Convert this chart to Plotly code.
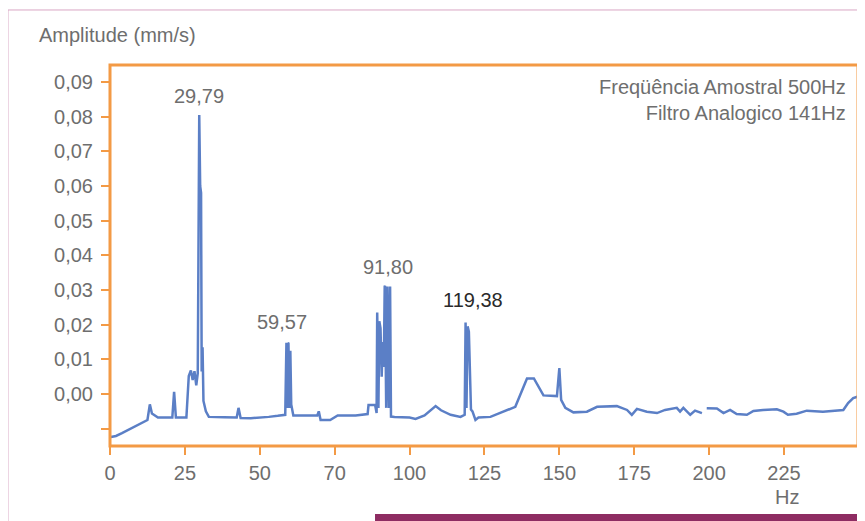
import plotly.graph_objects as go

# Espectro de vibração
freq_hz = [
    0.3, 2, 4, 7, 10, 12.5, 13.3, 14, 15, 16, 20.8, 21.4, 22, 25.5, 26.3, 27.0, 27.6,
    28.2, 28.8, 29.3, 29.79, 30.1, 30.4, 30.6, 30.9, 31.2, 32.0, 33.0, 38, 42.3, 42.9,
    43.6, 47, 50, 53, 56, 58.5, 58.9, 59.2, 59.4, 59.57, 59.9, 60.2, 60.5, 61.2, 65,
    69.2, 69.7, 70.3, 73.5, 76, 82, 86.0, 86.3, 88.5, 89.0, 89.2, 89.6, 89.9, 90.3,
    90.7, 91.0, 91.4, 91.7, 91.80, 92.2, 92.6, 93.1, 93.5, 93.8, 95, 100, 102, 105,
    108.7, 110.5, 113.7, 117, 118.4, 118.7, 119.0, 119.38, 119.8, 120.5, 121, 122, 123,
    127, 130.3, 135.3, 139.2, 141.5, 144.7, 147, 149.2, 150.0, 150.6, 152, 154.7, 159.2,
    162.6, 169.2, 172.6, 174.2, 175.9, 179.2, 182.6, 185.3, 189.2, 190.3, 191.4, 193.7,
    195.3, 197.6, 198.4, 199.2, 202.6, 204.8, 207, 209.2, 212.6, 214.8, 218, 222.6,
    224.8, 226.3, 229.2, 232.6, 235.9, 238, 244.8, 246.4, 248.1, 249.5,
]
amp_mm_s = [
    -0.0124, -0.0121, -0.0113, -0.0099, -0.0087, -0.0075, -0.0030, -0.0056, -0.0062,
    -0.0068, -0.0068, 0.0006, -0.0068, -0.0068, 0.0052, 0.0068, 0.0040, 0.0066, 0.0025,
    0.0060, 0.0805, 0.0600, 0.0580, 0.0065, 0.0135, -0.0020, -0.0050, -0.0066, -0.0067,
    -0.0068, -0.0040, -0.0069, -0.0070, -0.0069, -0.0066, -0.0063, -0.0060, 0.0148,
    -0.0040, 0.0147, 0.0146, -0.0040, 0.0125, -0.0030, -0.0062, -0.0062, -0.0062,
    -0.0050, -0.0075, -0.0075, -0.0062, -0.0062, -0.0058, -0.0032, -0.0032, -0.0055,
    0.0235, -0.0040, 0.0210, 0.0190, 0.0050, 0.0150, 0.0078, 0.0310, 0.0312, -0.0040,
    0.0310, -0.0040, 0.0310, -0.0065, -0.0066, -0.0068, -0.0072, -0.0062, -0.0035,
    -0.0047, -0.0060, -0.0066, -0.0060, 0.0206, -0.0040, 0.0195, 0.0180, -0.0045,
    -0.0050, -0.0075, -0.0068, -0.0066, -0.0055, -0.0037, 0.0045, 0.0045, -0.0004,
    -0.0004, -0.0006, 0.0075, -0.0017, -0.0040, -0.0053, -0.0051, -0.0037, -0.0035,
    -0.0046, -0.0060, -0.0043, -0.0051, -0.0055, -0.0046, -0.0040, -0.0051, -0.0040,
    -0.0060, -0.0048, -0.0055, None, -0.0041, -0.0042, -0.0055, -0.0046, -0.0058,
    -0.0060, -0.0049, -0.0046, -0.0044, -0.0051, -0.0060, -0.0057, -0.0048, -0.0051,
    -0.0051, -0.0046, -0.0026, -0.0012, -0.0008,
]

# Picos identificados
peak_freqs = [29.79, 59.57, 91.80, 119.38]
peak_amps = [0.0805, 0.0148, 0.0312, 0.0206]
peak_labels = ["29,79", "59,57", "91,80", "119,38"]

x_tickvals = [0, 25, 50, 75, 100, 125, 150, 175, 200, 225]
x_ticktext = ["0", "25", "50", "70", "100", "125", "150", "175", "200", "225"]
y_tickvals = [0.09, 0.08, 0.07, 0.06, 0.05, 0.04, 0.03, 0.02, 0.01, 0.0, -0.01]
y_ticktext = ["0,09", "0,08", "0,07", "0,06", "0,05", "0,04", "0,03", "0,02", "0,01", "0,00", ""]

FONT = "Liberation Sans, Arial, sans-serif"
ORANGE = "#f39a45"
GRAY = "#6e6e6e"

fig = go.Figure()
fig.add_trace(go.Scatter(x=freq_hz, y=amp_mm_s, mode="lines",
                         line=dict(color="#5b7fc6", width=2.5), connectgaps=False,
                         showlegend=False, hoverinfo="x+y"))

# Rótulos dos picos
shifts = [(0, 6), (-6, 8), (3, 6), (5, 10)]
for f, a, t, (dx, dy) in zip(peak_freqs, peak_amps, peak_labels, shifts):
    fig.add_annotation(x=f, y=a, text=t, showarrow=False, yanchor="bottom",
                       xshift=dx, yshift=dy,
                       font=dict(size=20, color="#2a2a2a" if t == "119,38" else GRAY))

fig.add_annotation(xref="paper", yref="paper", x=0.9866, y=0.908, xanchor="right",
                   yanchor="middle", align="right", showarrow=False,
                   text="Freqüência Amostral 500Hz<br>Filtro Analogico 141Hz",
                   font=dict(size=20, color=GRAY))
fig.add_annotation(xref="paper", yref="paper", x=-0.0976, y=1.0787, xanchor="left",
                   yanchor="middle", showarrow=False, text="Amplitude (mm/s)",
                   font=dict(size=20, color=GRAY))
fig.add_annotation(xref="paper", yref="paper", x=0.905, y=-0.1340, xanchor="center",
                   yanchor="middle", showarrow=False, text="Hz",
                   font=dict(size=20, color=GRAY))

# Moldura externa e faixa inferior
fig.add_shape(type="line", xref="paper", yref="paper", x0=-0.1364, x1=-0.1364,
              y0=-0.25, y1=1.1444, line=dict(color="#d9a6c4", width=1))
fig.add_shape(type="line", xref="paper", yref="paper", x0=-0.1364, x1=1.05,
              y0=1.1444, y1=1.1444, line=dict(color="#d9a6c4", width=1))
fig.add_shape(type="rect", xref="paper", yref="paper", x0=0.3543, x1=1.05,
              y0=-0.25, y1=-0.1785, line=dict(width=0), fillcolor="#8e2c62")
# Moldura laranja do gráfico
fig.add_shape(type="rect", xref="paper", yref="paper", x0=0, x1=1, y0=0, y1=1,
              line=dict(color=ORANGE, width=3))

fig.update_xaxes(range=[0, 249.7], tickvals=x_tickvals, ticktext=x_ticktext,
                 ticks="outside", ticklen=8, tickcolor=ORANGE, tickwidth=1.5,
                 showgrid=False, zeroline=False, showline=False,
                 tickfont=dict(size=20, color=GRAY), ticklabelstandoff=1)
fig.update_yaxes(range=[-0.0150, 0.0949], tickvals=y_tickvals, ticktext=y_ticktext,
                 ticks="outside", ticklen=8, tickcolor=ORANGE, tickwidth=1.5,
                 showgrid=False, zeroline=False, showline=False,
                 tickfont=dict(size=20, color=GRAY), ticklabelstandoff=4)

# a página tem 8px de margem no corpo: a figura ocupa 857x513
fig.update_layout(width=857, height=513, margin=dict(l=102, r=7, t=57, b=75),
                  plot_bgcolor="white", paper_bgcolor="white",
                  font=dict(family=FONT, color=GRAY))

fig.write_html("out.html")
